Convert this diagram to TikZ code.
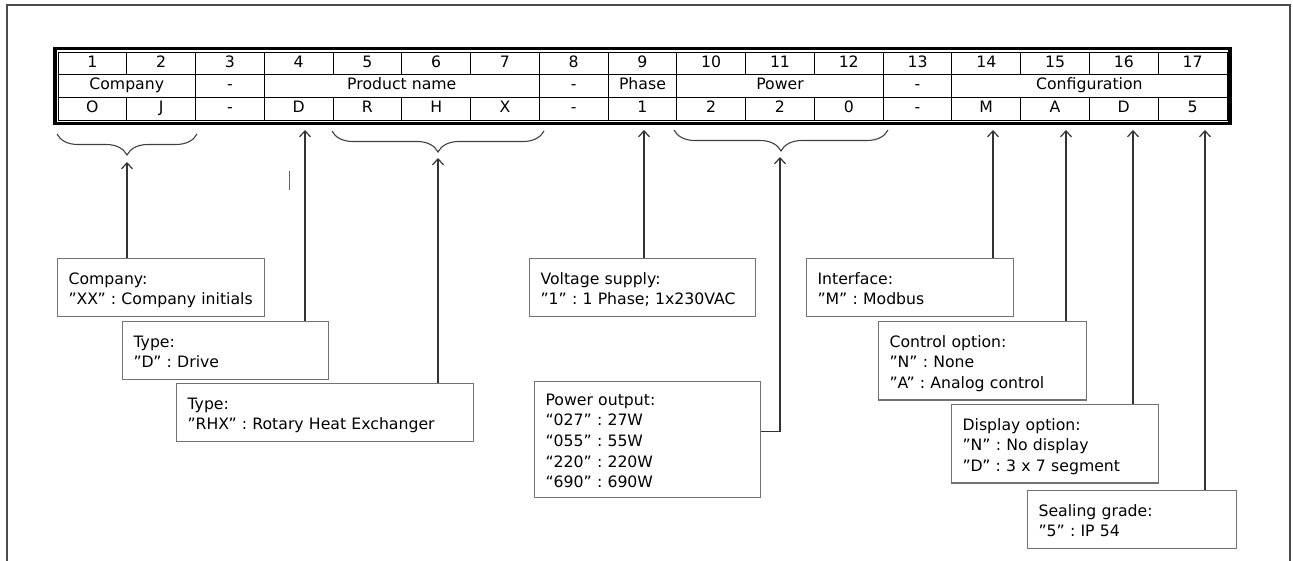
\documentclass[tikz,border=0pt]{standalone}
\usepackage{fontspec}
\setmainfont{DejaVu Sans}
\usetikzlibrary{arrows.meta, positioning, decorations.pathreplacing}
\frenchspacing

\begin{document}
\begin{tikzpicture}[
  x=1pt, y=1pt,
  font=\fontsize{15.7}{20.7}\selectfont,
  cell/.style={inner sep=0pt, text height=11pt, text depth=3.5pt},
  infobox/.style={draw=black!55, line width=1.1pt, anchor=north west,
                  align=left, inner xsep=11pt, inner ysep=8pt,
                  execute at begin node={\rule{0pt}{17.5pt}},
                  execute at end node={\rule[-3.5pt]{0pt}{3.5pt}}},
  arr/.style={-{Straight Barb[length=6pt, width=11pt]}, line width=1.2pt,
              draw=black!80},
  curly/.style={decorate, decoration={brace, mirror, amplitude=21pt},
                line width=1.1pt, draw=black!75},
  grid/.style={line width=0.9pt}
]

\useasboundingbox (0,0) rectangle (1293,-561);

%% ---------- frame ----------
\draw[black!70, line width=1.2pt] (7,-561) -- (7,-5) -- (1290,-5) -- (1290,-561);

%% ---------- code table ----------
\def\cw{68.76}
\draw[line width=3.5pt] (55,-48.5) rectangle (1230,-123.5);
\draw[grid] (58,-52) rectangle (1227,-120);
\draw[grid] (58,-74.7) -- (1227,-74.7);
\draw[grid] (58,-97.3) -- (1227,-97.3);
\foreach \i in {1,...,16} {
  \draw[grid] ({58+\i*\cw},-52) -- ({58+\i*\cw},-74.7);
  \draw[grid] ({58+\i*\cw},-97.3) -- ({58+\i*\cw},-120);
}
\foreach \i in {2,3,7,8,9,12,13}
  \draw[grid] ({58+\i*\cw},-74.7) -- ({58+\i*\cw},-97.3);

\foreach \i in {1,...,17}
  \node[cell] (num\i) at ({58+(\i-0.5)*\cw},-63.3) {\i};
\foreach \v [count=\i] in {O,J,-,D,R,H,X,-,1,2,2,0,-,M,A,D,5}
  \node[cell] (val\i) at ({58+(\i-0.5)*\cw},-108.6) {\v};
\foreach \c/\t/\n in {1/Company/grpco, 2.5/-/grpda, 5/Product name/grppn,
    7.5/-/grpdb, 8.5/Phase/grpph, 10.5/Power/grppw, 12.5/-/grpdc,
    15/Configuration/grpcf}
  \node[cell] (\n) at ({58+\c*\cw},-86) {\t};

%% ---------- braces ----------
\draw[curly] (57,-134) -- (197,-134);
\draw[curly] (332,-131) -- (544,-131);
\draw[curly] (674,-130) -- (888,-130);

\coordinate (cotip) at (127,-162);
\coordinate (rhxtip) at (438,-158);
\coordinate (pwtip) at (780,-157);
\coordinate (pwturn) at (780,-431.7);
\coordinate (t4) at (305,-130);
\coordinate (t9) at (644,-130);
\coordinate (t14) at (993,-130);
\coordinate (t15) at (1066,-130);
\coordinate (t16) at (1133,-130);
\coordinate (t17) at (1205,-130);

%% ---------- explanation boxes ----------
\node[infobox, text width=185pt] (cobox) at (57,-258)
  {Company:\\”XX” : Company initials};
\node[infobox, text width=184pt] (dbox) at (122,-321)
  {Type:\\”D” : Drive};
\node[infobox, text width=275pt] (rhxbox) at (176,-383)
  {Type:\\”RHX” : Rotary Heat Exchanger};
\node[infobox, text width=204pt] (vbox) at (529,-258)
  {Voltage supply:\\”1” : 1 Phase; 1x230VAC};
\node[infobox, text width=204pt, inner ysep=6pt] (pbox) at (534,-381)
  {Power output:\\“027” : 27W\\“055” : 55W\\“220” : 220W\\“690” : 690W};
\node[infobox, text width=185pt] (ifbox) at (806,-258)
  {Interface:\\”M” : Modbus};
\node[infobox, text width=186pt] (ctbox) at (878,-321)
  {Control option:\\”N” : None\\”A” : Analog control};
\node[infobox, text width=185pt] (dsbox) at (951,-404)
  {Display option:\\”N” : No display\\”D” : 3 x 7 segment};
\node[infobox, text width=187pt] (sgbox) at (1027,-490)
  {Sealing grade:\\”5” : IP 54};

%% ---------- pointers ----------
\draw[arr] (cobox.north -| cotip) -- (cotip);
\draw[arr] (dbox.north -| t4) -- (t4);
\draw[arr] (rhxbox.north -| rhxtip) -- (rhxtip);
\draw[arr] (vbox.north -| t9) -- (t9);
\draw[arr] (pbox.east |- pwturn) -- (pwturn) -- (pwtip);
\draw[arr] (ifbox.north -| t14) -- (t14);
\draw[arr] (ctbox.north -| t15) -- (t15);
\draw[arr] (dsbox.north -| t16) -- (t16);
\draw[arr] (sgbox.north -| t17) -- (t17);

% stray mark
\draw[black!60, line width=0.8pt] (289.5,-171) -- (289.5,-190);
\end{tikzpicture}
\end{document}
